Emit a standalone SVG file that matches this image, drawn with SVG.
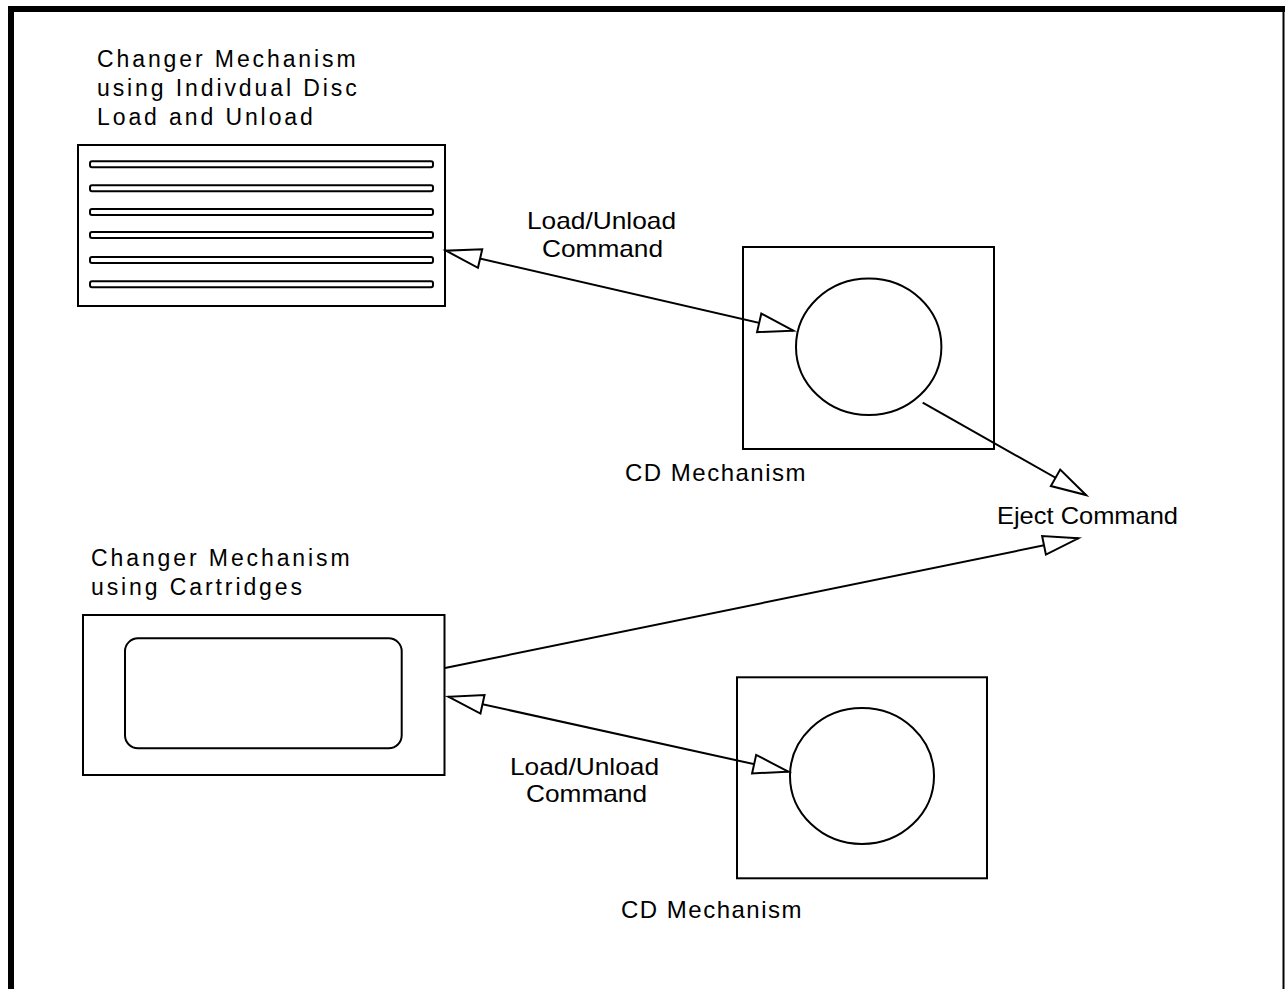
<svg xmlns="http://www.w3.org/2000/svg" width="1286" height="989" viewBox="0 0 1286 989">
<defs>
<style>
.s{fill:none;stroke:#000;stroke-width:2}
.t{font-family:"Liberation Sans",Arial,sans-serif;font-size:23px;letter-spacing:2.9px;fill:#000}
.m{font-family:"Liberation Sans",Arial,sans-serif;font-size:24px;letter-spacing:1.5px;fill:#000}
.l{font-family:"Liberation Sans",Arial,sans-serif;font-size:24px;fill:#000}
.c{fill:none;stroke:#000;stroke-width:2}
</style>
<marker id="ah" viewBox="-37 -12 40 24" refX="0" refY="0" markerWidth="40" markerHeight="24" markerUnits="userSpaceOnUse" orient="auto-start-reverse" overflow="visible">
<path d="M0,0 L-35,-9.5 L-35,9.5 Z" fill="#fff" stroke="#000" stroke-width="2" stroke-linejoin="miter"/>
</marker>
</defs>
<rect width="1286" height="989" fill="#fff"/>
<g id="frame">
<line x1="8" y1="9" x2="1285" y2="9" stroke="#000" stroke-width="6"/>
<line x1="11" y1="6" x2="11" y2="989" stroke="#000" stroke-width="6"/>
<line x1="1283.5" y1="6" x2="1283.5" y2="989" stroke="#000" stroke-width="2"/>
</g>
<g id="changer-individual">
<text class="t" x="97" y="67">Changer Mechanism</text>
<text class="t" x="97" y="96">using Indivdual Disc</text>
<text class="t" x="97" y="125">Load and Unload</text>
<rect class="s" x="78" y="145" width="367" height="161"/>
<rect class="s" x="90" y="161.3" width="343" height="6" rx="2"/>
<rect class="s" x="90" y="185.3" width="343" height="6" rx="2"/>
<rect class="s" x="90" y="209" width="343" height="6" rx="2"/>
<rect class="s" x="90" y="232" width="343" height="6" rx="2"/>
<rect class="s" x="90" y="257" width="343" height="6" rx="2"/>
<rect class="s" x="90" y="281.3" width="343" height="6" rx="2"/>
</g>
<g id="cd-top">
<rect class="s" x="743" y="247" width="251" height="202"/>
<ellipse class="s" cx="868.7" cy="346.7" rx="72.7" ry="68.3"/>
<text class="m" x="625" y="481">CD Mechanism</text>
</g>
<g id="eject">
<text class="l" x="997" y="524" textLength="181" lengthAdjust="spacingAndGlyphs">Eject Command</text>
</g>
<g id="changer-cartridges">
<text class="t" x="91" y="566">Changer Mechanism</text>
<text class="t" x="91" y="595">using Cartridges</text>
<rect class="s" x="83" y="615" width="361.5" height="160"/>
<rect class="s" x="125" y="638.3" width="276.7" height="110" rx="13"/>
</g>
<g id="cd-bottom">
<rect class="s" x="737" y="677.3" width="250" height="201"/>
<ellipse class="s" cx="862" cy="776" rx="72" ry="68"/>
<text class="m" x="621" y="918">CD Mechanism</text>
</g>
<g id="connectors">
<line class="c" x1="446" y1="250.7" x2="793.3" y2="330.7" marker-start="url(#ah)" marker-end="url(#ah)"/>
<text class="l" x="527" y="229" textLength="149" lengthAdjust="spacingAndGlyphs">Load/Unload</text>
<text class="l" x="542" y="257" textLength="121" lengthAdjust="spacingAndGlyphs">Command</text>
<line class="c" x1="922.7" y1="402.7" x2="1086" y2="495" marker-end="url(#ah)"/>
<line class="c" x1="445" y1="668" x2="1078.3" y2="538.3" marker-end="url(#ah)"/>
<line class="c" x1="448.3" y1="696.7" x2="788.3" y2="771.7" marker-start="url(#ah)" marker-end="url(#ah)"/>
<text class="l" x="510" y="774.5" textLength="149" lengthAdjust="spacingAndGlyphs">Load/Unload</text>
<text class="l" x="526" y="802" textLength="121" lengthAdjust="spacingAndGlyphs">Command</text>
</g>
</svg>
